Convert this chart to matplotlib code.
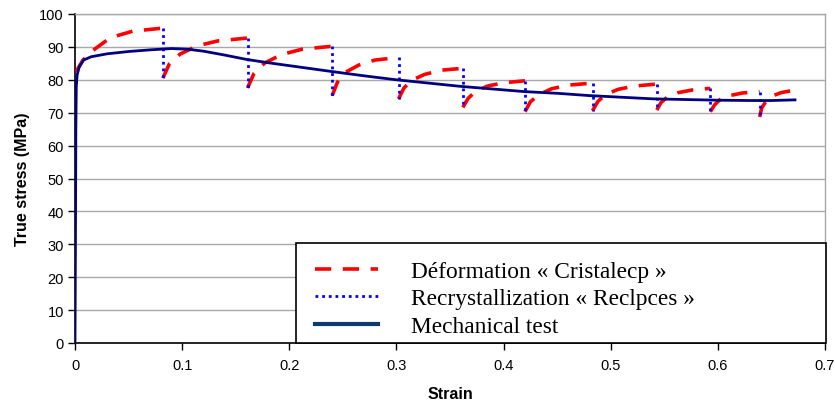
import matplotlib
matplotlib.use("Agg")
import matplotlib.pyplot as plt
from matplotlib.lines import Line2D
from matplotlib.patches import Rectangle

# Mechanical test curve (strain, true stress in MPa)
mech_strain = [0.0, 0.0004, 0.0008, 0.0012, 0.002, 0.004, 0.008, 0.015, 0.03, 0.05,
               0.07, 0.09, 0.105, 0.12, 0.14, 0.16, 0.18, 0.2, 0.22, 0.24,
               0.27, 0.3, 0.33, 0.36, 0.39, 0.42, 0.45, 0.48, 0.51, 0.54,
               0.57, 0.6, 0.63, 0.65, 0.672]
mech_stress = [0.0, 30.0, 65.0, 78.0, 81.5, 84.0, 86.0, 87.0, 87.9, 88.6,
               89.1, 89.5, 89.3, 88.7, 87.5, 86.2, 85.2, 84.3, 83.4, 82.5,
               81.2, 80.0, 79.0, 78.0, 77.2, 76.4, 75.9, 75.2, 74.7, 74.2,
               74.0, 73.8, 73.7, 73.7, 73.9]

# Deformation model "Cristalecp": one list per deformation pass
def_strain = [
    [0.001, 0.0075, 0.017, 0.033, 0.054, 0.082],
    [0.082, 0.088, 0.098, 0.114, 0.133, 0.161],
    [0.161, 0.167, 0.177, 0.193, 0.212, 0.240],
    [0.240, 0.245, 0.252, 0.265, 0.280, 0.302],
    [0.302, 0.307, 0.314, 0.326, 0.341, 0.362],
    [0.362, 0.367, 0.374, 0.385, 0.400, 0.420],
    [0.420, 0.425, 0.433, 0.445, 0.461, 0.483],
    [0.483, 0.488, 0.495, 0.507, 0.522, 0.543],
    [0.543, 0.547, 0.553, 0.563, 0.576, 0.593],
    [0.593, 0.597, 0.602, 0.611, 0.623, 0.639],
    [0.639, 0.641, 0.645, 0.651, 0.659, 0.669],
]
def_stress = [
    [82.5, 86.0, 89.0, 92.8, 94.8, 95.7],
    [80.5, 84.8, 87.8, 90.3, 91.8, 92.7],
    [77.5, 81.9, 85.1, 87.7, 89.3, 90.2],
    [75.2, 79.3, 82.2, 84.5, 86.0, 86.8],
    [74.2, 77.5, 79.8, 81.6, 82.9, 83.5],
    [71.6, 74.4, 76.5, 78.1, 79.1, 79.7],
    [70.3, 73.3, 75.5, 77.3, 78.4, 79.0],
    [70.6, 73.4, 75.5, 77.1, 78.1, 78.7],
    [70.8, 73.1, 74.8, 76.1, 76.9, 77.4],
    [70.3, 72.4, 74.0, 75.2, 76.0, 76.4],
    [68.7, 71.5, 73.5, 75.1, 76.1, 76.7],
]

# Recrystallization "Reclpces": stress drops between passes
rex_strain = [0.082, 0.161, 0.240, 0.302, 0.362, 0.420, 0.483, 0.543, 0.593, 0.639]
rex_top = [95.7, 92.7, 90.2, 86.8, 83.5, 79.7, 79.0, 78.7, 77.4, 76.4]
rex_bottom = [80.5, 77.5, 75.2, 74.2, 71.6, 70.3, 70.6, 70.8, 70.3, 68.7]

red = "#ff0000"
blue = "#0000ff"
navy = "#000080"

fig = plt.figure(figsize=(8.35, 4.02), dpi=100)
ax = fig.add_axes([75 / 835, 58 / 402, 750 / 835, 329 / 402])

ax.yaxis.grid(True, color="#a8a8a8", linewidth=1)
ax.set_axisbelow(True)

for xs, ys in zip(def_strain, def_stress):
    ax.plot(xs, ys, color=red, linewidth=2.6, dashes=(4.5, 3.2), zorder=3)

for x, top, bot in zip(rex_strain, rex_top, rex_bottom):
    ax.plot([x, x], [top, bot], color=blue, linewidth=2.0, dashes=(1, 1.4), zorder=4)

ax.plot(mech_strain, mech_stress, color=navy, linewidth=2.0, zorder=5)

ax.set_xlim(0, 0.7)
ax.set_ylim(0, 100)
ax.set_xticks([0, 0.1, 0.2, 0.3, 0.4, 0.5, 0.6, 0.7])
ax.set_xticklabels(["0", "0.1", "0.2", "0.3", "0.4", "0.5", "0.6", "0.7"])
ax.set_yticks(range(0, 101, 10))

for lab in ax.get_xticklabels() + ax.get_yticklabels():
    lab.set_fontfamily("Liberation Sans")
    lab.set_fontsize(10.5)
ax.tick_params(direction="out", length=5, width=1, pad=3)
ax.tick_params(axis="x", pad=6)

for side in ["left", "bottom"]:
    ax.spines[side].set_color("black")
    ax.spines[side].set_linewidth(1.2)
for side in ["right", "top"]:
    ax.spines[side].set_color("#a8a8a8")
    ax.spines[side].set_linewidth(1)

ax.set_xlabel("Strain", fontfamily="Liberation Sans", fontweight="bold", fontsize=11.5, labelpad=10)
ax.set_ylabel("True stress (MPa)", fontfamily="Liberation Sans", fontweight="bold", fontsize=11.5, labelpad=7)

# legend box
box = Rectangle((221 / 750, 0), 530 / 750, 100 / 329, transform=ax.transAxes,
                facecolor="white", edgecolor="black", linewidth=1.2, zorder=9,
                clip_on=False)
ax.add_patch(box)

handles = [
    Line2D([], [], color=red, linewidth=2.6, dashes=(4.5, 3.2)),
    Line2D([], [], color=blue, linewidth=2.0, dashes=(1, 1.4)),
    Line2D([], [], color="#0f3a6e", linewidth=3.0),
]
labels = ["Déformation « Cristalecp »",
          "Recrystallization « Reclpces »",
          "Mechanical test"]
leg = ax.legend(handles, labels, loc="upper left",
                bbox_to_anchor=(240 / 750, 82.5 / 329),
                borderaxespad=0, borderpad=0, frameon=False,
                handlelength=2.7, handletextpad=1.42, labelspacing=0.27,
                prop={"family": "Liberation Serif", "size": 16.8})
leg.set_zorder(10)

plt.savefig("out.png", dpi=100)
